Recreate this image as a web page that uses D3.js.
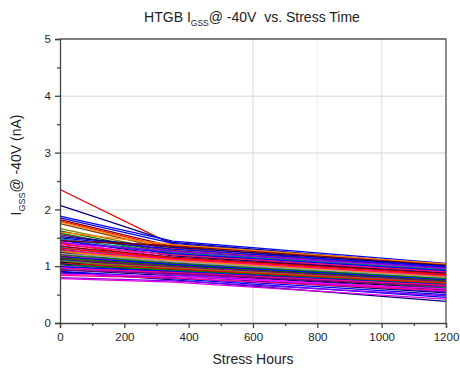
<!DOCTYPE html>
<html><head><meta charset="utf-8">
<script src="https://cdn.jsdelivr.net/npm/d3@7"></script>
<style>body{margin:0;background:#fff}svg{display:block}text{font-family:"Liberation Sans",Arial,sans-serif}</style>
</head><body>
<svg id="c" width="460" height="374"></svg>
<script>
const hours = [0, 350, 1200];
const xTicks = [0, 200, 400, 600, 800, 1000, 1200];
const yTicks = [0, 1, 2, 3, 4, 5];
const xGrid = [600, 800, 1000];
const yGrid = [1, 2, 3, 4];
// each device: [I at 0h, I at mid readpoint, I at 1200h] (nA)
const devices = [
  [2.35,1.38,0.98],[2.07,1.42,1.02],[1.88,1.44,1.05],[1.85,1.40,1.00],[1.82,1.35,0.95],
  [1.80,1.32,0.92],[1.78,1.30,0.93],[1.75,1.28,0.90],[1.66,1.25,0.88],[1.62,1.22,0.86],
  [1.58,1.20,0.84],[1.55,1.27,0.97],[1.52,1.33,1.01],[1.50,1.30,0.99],[1.48,1.24,0.94],
  [1.46,1.18,0.88],[1.45,1.22,0.92],[1.43,1.15,0.86],[1.41,1.26,0.96],[1.40,1.12,0.82],
  [1.38,1.20,0.90],[1.36,1.10,0.80],[1.35,1.16,0.87],[1.33,1.08,0.78],[1.32,1.14,0.85],
  [1.30,1.06,0.76],[1.28,1.12,0.83],[1.27,1.04,0.74],[1.25,1.10,0.81],[1.24,1.02,0.72],
  [1.22,1.08,0.80],[1.21,1.00,0.70],[1.20,1.05,0.78],[1.18,0.98,0.68],[1.17,1.03,0.76],
  [1.15,0.96,0.66],[1.14,1.01,0.74],[1.12,0.94,0.64],[1.11,0.99,0.73],[1.10,0.92,0.62],
  [1.08,0.97,0.71],[1.07,0.90,0.60],[1.05,0.95,0.70],[1.04,0.88,0.58],[1.02,0.93,0.68],
  [1.00,0.86,0.56],[0.99,0.91,0.67],[0.97,0.85,0.55],[0.96,0.89,0.66],[0.94,0.83,0.53],
  [0.93,0.87,0.64],[0.91,0.80,0.50],[0.90,0.76,0.38],[0.88,0.78,0.45],[0.86,0.82,0.60],
  [0.84,0.79,0.57],[0.80,0.74,0.48],[0.78,0.72,0.42],[1.45,1.36,1.03],[1.60,1.38,1.04]
];
const palette = ["#e00000","#000080","#0000ff","#0000e0","#800000","#ff0000","#ff8000","#804000",
  "#808000","#006400","#008000","#800080","#000080","#0000ff","#008080","#000080","#0000ff",
  "#ff00ff","#8000ff","#ff0000","#ff0080","#ff00ff","#800000","#008080","#ff0000","#800080",
  "#ff0080","#808000","#ff8000","#000080","#a0a0a0","#ff00ff","#008000","#ff0000","#0000ff",
  "#800000","#006400","#000000","#800080","#008080","#808000","#000000","#ff0000","#000080",
  "#008000","#ff00ff","#0000ff","#8000ff","#ff0080","#000080","#800080","#0000ff","#000080",
  "#0000ff","#ff00ff","#ff0080","#8000ff","#e000e0","#800000","#ff8000"];

const svg = d3.select("#c");
const m = {l:60, r:446, t:39, b:323};
const x = d3.scaleLinear().domain([0,1200]).range([m.l, m.r]);
const y = d3.scaleLinear().domain([0,5]).range([m.b, m.t]);

// grid
svg.append("g").selectAll("line").data(yGrid).join("line")
  .attr("x1", m.l).attr("x2", m.r).attr("y1", d=>y(d)+0.5).attr("y2", d=>y(d)+0.5)
  .attr("stroke", "#e2e2e2").attr("stroke-width", 1.5);
svg.append("g").selectAll("line").data(xGrid).join("line")
  .attr("x1", d=>x(d)).attr("x2", d=>x(d)).attr("y1", m.t).attr("y2", m.b)
  .attr("stroke", d=> d===800 ? "#f0f0f0" : "#e0e0e0").attr("stroke-width", 1.2);

// lines
const line = d3.line().x((d,i)=>x(hours[i])).y(d=>y(d));
svg.append("g").selectAll("path").data(devices).join("path")
  .attr("d", line).attr("fill","none")
  .attr("stroke", (d,i)=>palette[i % palette.length]).attr("stroke-width", 1.3);

// frame
svg.append("path").attr("d", `M${m.l},${m.t}H${m.r}V${m.b}`)
  .attr("fill","none").attr("stroke","#555").attr("stroke-width",1.3);

// axes
const axCol = "#444";
const xAxis = svg.append("g").attr("transform", `translate(0,${m.b})`)
  .call(d3.axisBottom(x).tickValues(xTicks).tickSize(5).tickPadding(5).tickFormat(d3.format("d")));
const xMinor = svg.append("g").attr("transform", `translate(0,${m.b})`)
  .call(d3.axisBottom(x).tickValues(d3.range(100,1200,200)).tickSize(3).tickFormat(""));
const yAxis = svg.append("g").attr("transform", `translate(${m.l},0)`)
  .call(d3.axisLeft(y).tickValues(yTicks).tickSize(5).tickPadding(4).tickFormat(d3.format("d")));
const yMinor = svg.append("g").attr("transform", `translate(${m.l},0)`)
  .call(d3.axisLeft(y).tickValues(d3.range(0.5,5,1)).tickSize(3).tickFormat(""));
[xAxis,xMinor,yAxis,yMinor].forEach(g=>{
  g.selectAll("path,line").attr("stroke", axCol).attr("stroke-width", 1.3);
  g.selectAll("text").attr("fill","#222").style("font-size","11.5px").style("font-family","'Liberation Sans',Arial,sans-serif");
});
xMinor.select("path").remove(); yMinor.select("path").remove();

// title
const t = svg.append("text").attr("x", 252).attr("y", 22).attr("text-anchor","middle")
  .attr("fill","#222").style("font-size","14px");
t.append("tspan").text("HTGB I");
t.append("tspan").attr("dy", 4).style("font-size","8.5px").text("GSS");
t.append("tspan").attr("dy", -4).attr("xml:space","preserve").text("@ -40V  vs. Stress Time");

// x label
svg.append("text").attr("x", 253).attr("y", 364).attr("text-anchor","middle")
  .attr("fill","#222").style("font-size","14px").text("Stress Hours");

// y label
const yl = svg.append("text").attr("transform","translate(21,165) rotate(-90)")
  .attr("text-anchor","middle").attr("fill","#222").style("font-size","14px");
yl.append("tspan").text("I");
yl.append("tspan").attr("dy", 4).style("font-size","9px").text("GSS");
yl.append("tspan").attr("dy", -4).text("@ -40V (nA)");
</script>
</body></html>
